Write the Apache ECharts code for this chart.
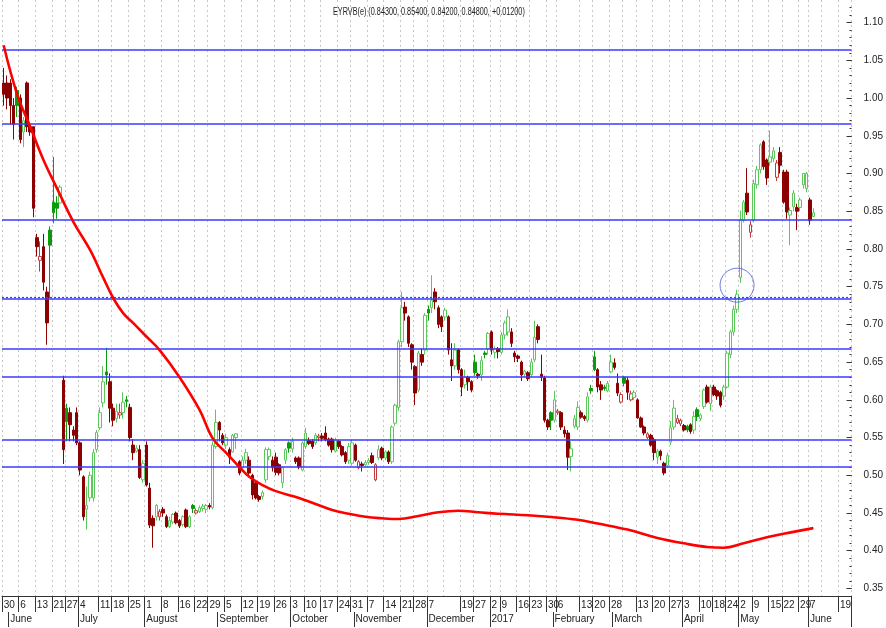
<!DOCTYPE html>
<html><head><meta charset="utf-8">
<script src="https://cdn.jsdelivr.net/npm/echarts@6/dist/echarts.min.js"></script>
<style>html,body{margin:0;padding:0;background:#fff}#c{width:886px;height:628px}</style>
</head><body><div id="c"></div>
<script>
const titleText = 'EYRVB(e) (0.84300, 0.85400, 0.84200, 0.84800, +0.01200)';

// daily candles: [open, close, low, high]
const candles = [
[1.02,1.005,0.99,1.04],[1.02,1.00,0.985,1.03],[1.02,0.99,0.965,1.025],[0.99,0.965,0.945,1.00],
[1.01,0.99,0.975,1.015],[1.00,0.945,0.94,1.005],[0.955,0.97,0.935,0.975],[1.02,0.962,0.955,1.022],
[0.962,0.955,0.95,0.965],[0.962,0.854,0.842,0.962],[0.815,0.803,0.79,0.82],[0.785,0.79,0.77,0.81],
[0.803,0.756,0.745,0.82],[0.743,0.702,0.673,0.75],[0.825,0.805,0.735,0.83],[0.862,0.848,0.834,0.922],
[0.861,0.854,0.84,0.87],[0.861,0.882,0.86,0.885],
[0.626,0.534,0.515,0.632],[0.589,0.571,0.545,0.595],[0.583,0.567,0.545,0.59],[0.56,0.553,0.545,0.565],
[0.583,0.543,0.54,0.59],[0.543,0.507,0.50,0.545],[0.498,0.445,0.44,0.50],[0.455,0.46,0.428,0.485],
[0.47,0.50,0.465,0.505],[0.47,0.53,0.465,0.535],[0.534,0.557,0.53,0.56],[0.563,0.583,0.56,0.59],
[0.596,0.624,0.59,0.645],[0.637,0.633,0.62,0.669],[0.624,0.589,0.57,0.635],[0.589,0.573,0.565,0.595],
[0.575,0.585,0.57,0.595],[0.58,0.583,0.575,0.595],[0.583,0.597,0.575,0.61],[0.60,0.598,0.59,0.605],
[0.59,0.55,0.545,0.595],[0.54,0.53,0.52,0.548],[0.532,0.536,0.53,0.54],[0.534,0.497,0.495,0.54],
[0.494,0.516,0.49,0.52],[0.54,0.487,0.485,0.545],[0.483,0.434,0.43,0.49],[0.443,0.433,0.404,0.447],
[0.445,0.46,0.44,0.462],[0.445,0.452,0.44,0.455],[0.455,0.45,0.445,0.458],[0.445,0.432,0.43,0.448],
[0.432,0.44,0.43,0.445],[0.438,0.448,0.435,0.45],[0.45,0.437,0.435,0.452],[0.44,0.433,0.43,0.442],
[0.435,0.445,0.432,0.447],[0.454,0.432,0.43,0.456],[0.432,0.445,0.43,0.447],[0.46,0.456,0.45,0.462],
[0.45,0.453,0.448,0.456],[0.452,0.457,0.45,0.46],[0.456,0.459,0.452,0.462],[0.455,0.46,0.45,0.462],
[0.46,0.458,0.455,0.463],[0.457,0.54,0.455,0.545],
[0.538,0.57,0.535,0.587],[0.57,0.56,0.545,0.572],[0.553,0.543,0.54,0.556],[0.54,0.55,0.535,0.555],
[0.534,0.524,0.515,0.537],[0.531,0.553,0.53,0.555],[0.55,0.555,0.535,0.556],[0.518,0.503,0.50,0.52],
[0.51,0.52,0.505,0.525],[0.52,0.53,0.515,0.535],[0.52,0.503,0.50,0.525],[0.50,0.474,0.468,0.502],
[0.49,0.47,0.468,0.492],[0.472,0.468,0.465,0.474],[0.472,0.477,0.468,0.48],[0.494,0.534,0.49,0.537],
[0.525,0.534,0.52,0.537],[0.52,0.51,0.505,0.525],[0.524,0.504,0.50,0.53],[0.514,0.503,0.50,0.516],
[0.49,0.51,0.483,0.512],[0.52,0.534,0.515,0.536],[0.543,0.536,0.53,0.545],[0.535,0.545,0.53,0.55],
[0.523,0.518,0.515,0.525],[0.523,0.511,0.508,0.525],[0.507,0.543,0.505,0.545],[0.538,0.556,0.535,0.563],
[0.546,0.542,0.54,0.55],[0.545,0.538,0.535,0.548],[0.543,0.553,0.54,0.556],[0.55,0.552,0.545,0.555],
[0.552,0.549,0.545,0.556],[0.556,0.547,0.545,0.565],[0.548,0.54,0.538,0.55],[0.548,0.534,0.53,0.55],
[0.532,0.547,0.53,0.55],[0.545,0.538,0.535,0.547],[0.538,0.527,0.525,0.54],[0.53,0.518,0.515,0.532],
[0.52,0.538,0.515,0.543],[0.516,0.543,0.513,0.547],[0.54,0.52,0.518,0.542],[0.51,0.518,0.508,0.52],
[0.515,0.513,0.505,0.518],[0.514,0.517,0.512,0.52],[0.517,0.52,0.514,0.523],[0.526,0.517,0.515,0.53],
[0.494,0.514,0.492,0.516],[0.523,0.534,0.52,0.54],[0.536,0.523,0.52,0.538],[0.523,0.531,0.52,0.533],
[0.531,0.518,0.515,0.533],[0.518,0.564,0.515,0.566],[0.569,0.593,0.565,0.595],[0.59,0.677,0.585,0.68],
[0.677,0.722,0.67,0.743],[0.723,0.715,0.705,0.73],[0.71,0.675,0.67,0.712],[0.673,0.65,0.64,0.675],
[0.644,0.609,0.593,0.646],[0.613,0.662,0.61,0.665],[0.66,0.65,0.645,0.668],[0.666,0.712,0.66,0.715],
[0.72,0.715,0.705,0.725],[0.722,0.732,0.715,0.765],[0.743,0.73,0.72,0.748],[0.722,0.70,0.695,0.725],
[0.71,0.697,0.69,0.712],[0.71,0.719,0.705,0.722],[0.71,0.666,0.66,0.712],[0.653,0.645,0.625,0.675],
[0.645,0.666,0.64,0.675],[0.666,0.64,0.635,0.668],[0.64,0.617,0.605,0.642],[0.62,0.63,0.615,0.64],
[0.63,0.624,0.612,0.632],[0.624,0.613,0.61,0.626],[0.65,0.636,0.632,0.66],[0.634,0.632,0.628,0.636],
[0.633,0.652,0.625,0.658],[0.662,0.66,0.655,0.665],[0.668,0.688,0.66,0.69],[0.69,0.666,0.66,0.692],
[0.663,0.668,0.655,0.671],[0.668,0.664,0.655,0.67],[0.663,0.686,0.66,0.69],[0.686,0.702,0.68,0.705],
[0.69,0.71,0.685,0.72],[0.69,0.675,0.67,0.695],[0.662,0.657,0.65,0.665],[0.658,0.655,0.65,0.66],
[0.65,0.633,0.625,0.652],[0.634,0.638,0.63,0.64],[0.636,0.628,0.625,0.638],[0.633,0.65,0.63,0.655],
[0.653,0.683,0.65,0.705],[0.697,0.68,0.675,0.70],[0.634,0.63,0.625,0.66],[0.629,0.573,0.57,0.632],
[0.573,0.564,0.56,0.575],[0.583,0.573,0.56,0.585],[0.573,0.60,0.57,0.612],[0.583,0.585,0.58,0.588],
[0.583,0.564,0.56,0.585],[0.56,0.555,0.55,0.565],[0.556,0.524,0.507,0.56],[0.525,0.535,0.505,0.545],
[0.565,0.575,0.562,0.58],[0.564,0.59,0.56,0.598],[0.583,0.577,0.575,0.586],[0.578,0.575,0.572,0.58],
[0.573,0.604,0.57,0.61],[0.615,0.612,0.608,0.62],[0.657,0.64,0.638,0.665],[0.64,0.617,0.61,0.642],
[0.62,0.613,0.60,0.625],[0.617,0.615,0.612,0.62],[0.612,0.622,0.61,0.625],[0.637,0.65,0.635,0.66],
[0.649,0.643,0.64,0.655],[0.622,0.609,0.605,0.635],[0.597,0.607,0.595,0.61],[0.63,0.622,0.618,0.632],
[0.626,0.61,0.60,0.63],[0.60,0.608,0.598,0.612],[0.603,0.61,0.60,0.613],[0.60,0.576,0.575,0.602],
[0.576,0.564,0.563,0.578],[0.564,0.556,0.553,0.566],[0.55,0.555,0.548,0.557],[0.553,0.54,0.538,0.555],
[0.547,0.53,0.52,0.55],[0.524,0.532,0.515,0.535],[0.532,0.526,0.52,0.534],[0.516,0.503,0.50,0.518],
[0.513,0.526,0.51,0.53],[0.544,0.563,0.54,0.572],[0.564,0.589,0.56,0.60],[0.57,0.575,0.568,0.58],
[0.568,0.573,0.565,0.575],[0.566,0.56,0.558,0.568],[0.565,0.56,0.557,0.567],[0.567,0.558,0.555,0.569],
[0.56,0.578,0.555,0.585],[0.587,0.578,0.572,0.59],[0.575,0.58,0.572,0.582],[0.591,0.613,0.588,0.615],
[0.617,0.597,0.595,0.62],[0.595,0.617,0.585,0.62],[0.617,0.607,0.605,0.62],[0.612,0.605,0.60,0.614],
[0.61,0.593,0.59,0.612],[0.605,0.617,0.60,0.62],[0.617,0.662,0.615,0.665],[0.66,0.69,0.655,0.693],
[0.69,0.72,0.685,0.725],[0.72,0.74,0.715,0.746],[0.762,0.838,0.755,0.851],[0.838,0.862,0.835,0.865],
[0.874,0.849,0.845,0.907],[0.822,0.832,0.815,0.837],[0.838,0.887,0.835,0.892],[0.885,0.905,0.88,0.91],
[0.905,0.938,0.90,0.94],[0.942,0.909,0.905,0.944],[0.918,0.894,0.885,0.92],[0.915,0.922,0.91,0.957],
[0.92,0.93,0.915,0.935],[0.895,0.914,0.89,0.918],[0.928,0.911,0.90,0.935],[0.902,0.862,0.86,0.905],
[0.902,0.849,0.84,0.905],[0.845,0.851,0.805,0.855],[0.856,0.874,0.85,0.878],[0.855,0.85,0.825,0.86],
[0.855,0.865,0.85,0.868],[0.885,0.90,0.88,0.90],[0.88,0.90,0.875,0.902],[0.865,0.838,0.832,0.868],
[0.843,0.848,0.842,0.854]
];

// moving average (red), sampled at bar indices
const maIndex = [0,4,8,12,16,21,26,30,33,36,39,43,47,53,59,63,67,71,74,78,82,89,94,99,104,109,114,119,125,131,137,143,149,158,164,173,179,188,197,206,212,217,223,230,238,244];
const maValue = [1.07,1.006,0.962,0.918,0.881,0.836,0.799,0.762,0.735,0.715,0.702,0.684,0.666,0.630,0.587,0.549,0.530,0.511,0.498,0.487,0.479,0.470,0.462,0.454,0.449,0.445,0.443,0.442,0.446,0.451,0.453,0.451,0.449,0.447,0.445,0.441,0.436,0.428,0.417,0.409,0.405,0.404,0.410,0.418,0.425,0.430];

// horizontal blue levels
const levels = [1.0636, 0.9655, 0.8384, 0.7338, 0.6674, 0.6305, 0.5468, 0.5108];
const dottedLevels = [0.7360];

// annotation circle [bar index, value]
const circleMark = [221, 0.752];

// x-axis ticks: [bar index, label]
const dayTicks = [[0,'30'],[5,'6'],[10,'13'],[15,'21'],[19,'27'],[23,'4'],[29,'11'],[33,'18'],[38,'25'],[43,'1'],[48,'8'],[53,'16'],[58,'22'],[62,'29'],[67,'5'],[72,'12'],[77,'19'],[82,'26'],[87,'3'],[91,'10'],[96,'17'],[101,'24'],[105,'31'],[110,'7'],[115,'14'],[120,'21'],[124,'28'],[128,'7'],[138,'19'],[142,'27'],[147,'2'],[150,'9'],[155,'16'],[159,'23'],[164,'30'],[167,'6'],[174,'13'],[178,'20'],[183,'28'],[191,'13'],[196,'20'],[201,'27'],[205,'3'],[210,'10'],[214,'18'],[218,'24'],[222,'2'],[226,'9'],[231,'15'],[235,'22'],[240,'29'],[243,'7'],[252,'19']];
const monthTicks = [[2,'June'],[23,'July'],[43,'August'],[65,'September'],[87,'October'],[106,'November'],[128,'December'],[147,'2017'],[166,'February'],[184,'March'],[205,'April'],[222,'May'],[243,'June']];
const unlabeledWeeks = [133,187,247];
const yLabels = [0.35,0.40,0.45,0.50,0.55,0.60,0.65,0.70,0.75,0.80,0.85,0.90,0.95,1.00,1.05,1.10];
const nCategories = 256;

const FONT = "'Liberation Sans',Arial,sans-serif";
const cats = Array.from({length: nCategories}, (_, i) => String(i));
const dayMap = new Map(dayTicks);
const monthMap = new Map(monthTicks);
const gridSet = new Set(dayTicks.map(d => d[0]).concat(unlabeledWeeks));
const minorTicks = [];
for (let k = 35; k <= 112; k++) minorTicks.push(k / 100);

const RED_FILL = '#8b0000', RED_LINE = '#c23b3b', GREEN_FILL = '#0c9a0c', GREEN_LINE = '#5cc85c';
const candleData = candles.map((c, i) => {
  const prevClose = i > 0 ? candles[i - 1][1] : c[0];
  const up = c[1] >= prevClose;
  const filled = c[1] < c[0];
  const line = up ? (filled ? GREEN_FILL : GREEN_LINE) : (filled ? RED_FILL : RED_LINE);
  const fill = filled ? (up ? GREEN_FILL : RED_FILL) : '#ffffff';
  return { value: c, itemStyle: { color: fill, color0: fill, borderColor: line, borderColor0: line, borderColorDoji: line } };
});
const maData = new Array(nCategories).fill(null);
maIndex.forEach((ix, k) => { maData[ix] = maValue[k]; });

const levelLines = levels.map(v => ({ yAxis: v, lineStyle: { color: '#3a3aff', width: 1.6, type: 'solid' } }))
  .concat(dottedLevels.map(v => ({ yAxis: v, lineStyle: { color: '#3a3aff', width: 1.2, type: [2, 2] } })));

const chart = echarts.init(document.getElementById('c'), null, { renderer: 'canvas' });
chart.setOption({
  animation: false,
  backgroundColor: '#ffffff',
  graphic: [{
    type: 'text', left: 333, top: 6, scaleX: 0.66, z: 100,
    style: { text: titleText, font: "11px 'Liberation Sans', Arial, sans-serif", fill: '#222' }
  }],
  grid: { left: 2, right: 31, top: 0, bottom: 32, containLabel: false },
  xAxis: [
    { type: 'category', data: cats, boundaryGap: true, position: 'bottom',
      axisLine: { show: true, lineStyle: { color: '#333', width: 1 } },
      axisTick: { show: true, interval: (i) => dayMap.has(i), length: 16, lineStyle: { color: '#333' } },
      axisLabel: { interval: (i) => dayMap.has(i), formatter: (v) => dayMap.get(Number(v)) || '', align: 'left', margin: 4, fontSize: 10, color: '#222', fontFamily: FONT },
      splitLine: { show: true, interval: (i) => gridSet.has(i), lineStyle: { color: '#c8c8c8', type: [2, 3], width: 1 } } },
    { type: 'category', data: cats, boundaryGap: true, position: 'bottom', offset: 16,
      axisLine: { show: false },
      axisTick: { show: true, interval: (i) => monthMap.has(i), length: 15, lineStyle: { color: '#333' } },
      axisLabel: { interval: (i) => monthMap.has(i), formatter: (v) => monthMap.get(Number(v)) || '', align: 'left', margin: 2, fontSize: 10, color: '#222', fontFamily: FONT },
      splitLine: { show: false } }
  ],
  yAxis: [
    { type: 'value', position: 'right', min: 0.34, max: 1.13,
      axisLine: { show: false }, splitLine: { show: false },
      axisTick: { show: true, inside: true, length: 5, customValues: yLabels, lineStyle: { color: '#333' } },
      axisLabel: { customValues: yLabels, formatter: (v) => v.toFixed(2), margin: 12, fontSize: 10, color: '#222', fontFamily: FONT } },
    { type: 'value', position: 'right', min: 0.34, max: 1.13,
      axisLine: { show: false }, splitLine: { show: false },
      axisTick: { show: true, inside: true, length: 2, customValues: minorTicks, lineStyle: { color: '#333' } },
      axisLabel: { show: false } }
  ],
  series: [
    { type: 'candlestick', xAxisIndex: 0, yAxisIndex: 0, data: candleData, barWidth: 3,
      itemStyle: { borderWidth: 1 } },
    { type: 'line', xAxisIndex: 0, yAxisIndex: 0, data: maData, connectNulls: true, smooth: 0.4, showSymbol: false, z: 6,
      lineStyle: { color: '#ff0000', width: 2.6 },
      markLine: { silent: true, precision: 6, symbol: 'none', label: { show: false }, data: levelLines } },
    { type: 'scatter', xAxisIndex: 0, yAxisIndex: 0, data: [circleMark], symbol: 'circle', symbolSize: 34, z: 7,
      itemStyle: { color: 'rgba(0,0,0,0)', borderColor: '#4a55e0', borderWidth: 1 } }
  ]
});
</script>
</body></html>
